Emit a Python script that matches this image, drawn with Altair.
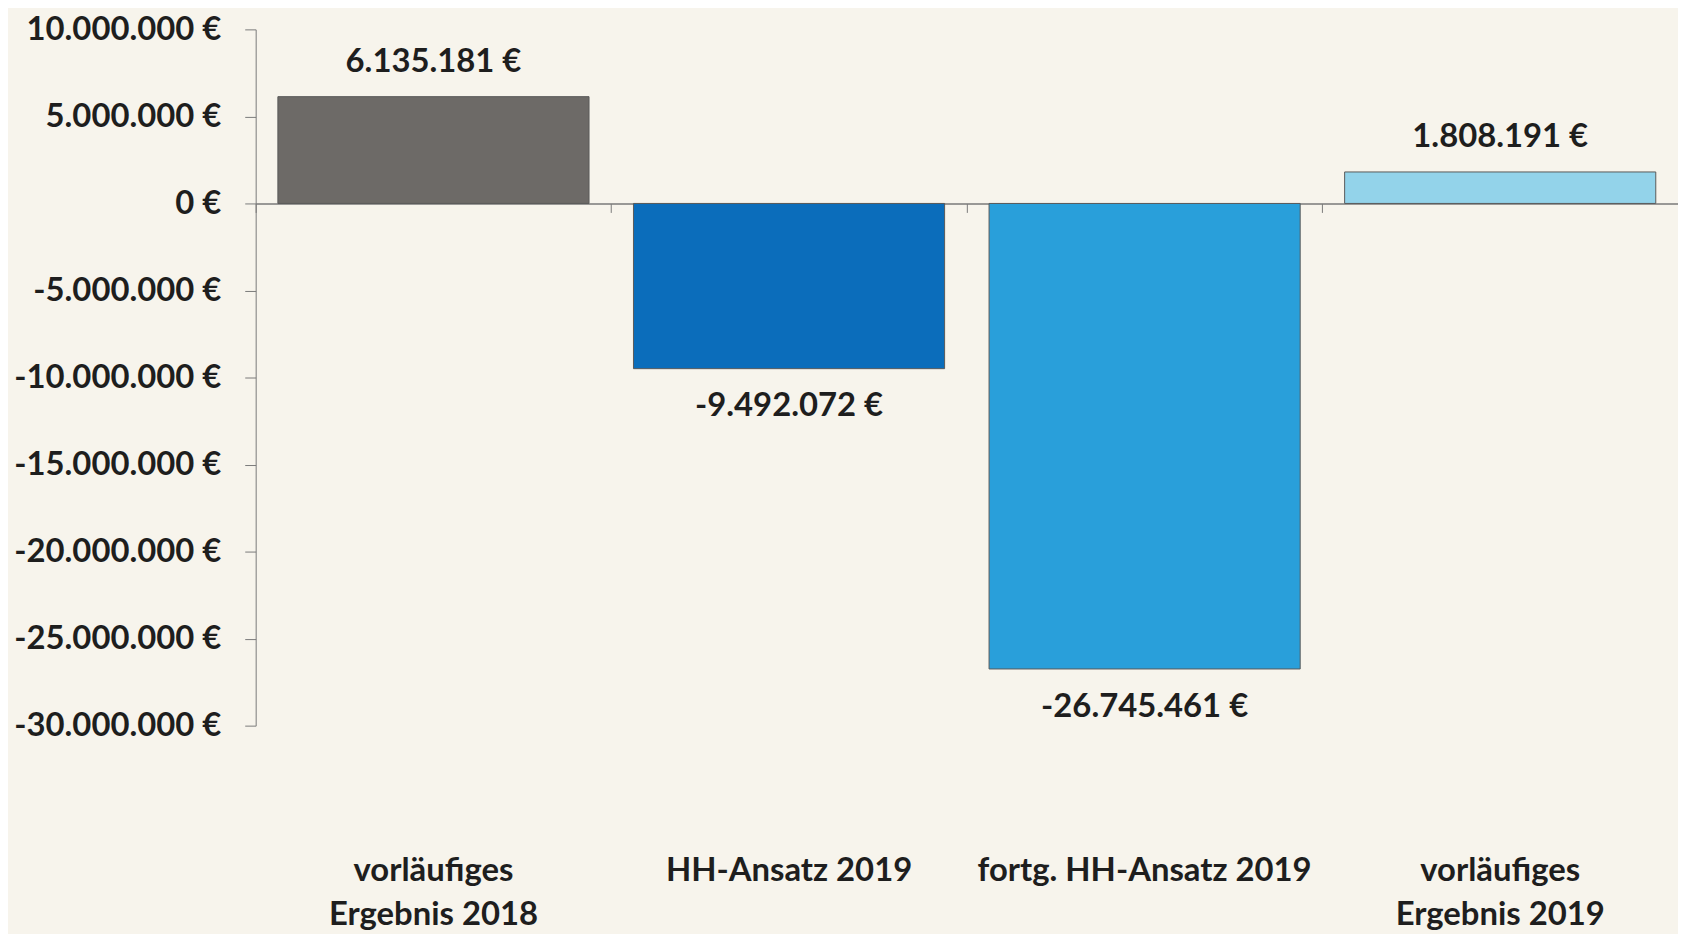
import altair as alt
import pandas as pd

categories = ["vorläufiges|Ergebnis 2018", "HH-Ansatz 2019", "fortg. HH-Ansatz 2019", "vorläufiges|Ergebnis 2019"]
values = [6135181, -9492072, -26745461, 1808191]
colors = ["#6d6a67", "#0b6dbb", "#299fda", "#93d3ea"]
y_ticks = [10000000, 5000000, 0, -5000000, -10000000, -15000000, -20000000, -25000000, -30000000]

df = pd.DataFrame({"cat": categories, "value": values, "color": colors})

FONT = "Lato"
FS = 33
W = 1430
H = 700
PAD_IN = 0.125

xscale = alt.Scale(domain=categories, paddingInner=PAD_IN, paddingOuter=PAD_IN / 2)
yscale = alt.Scale(domain=[-30000000, 10000000], nice=False)

base = alt.Chart(df)

bars = base.mark_bar(stroke="#5a5a5a", strokeWidth=1).encode(
    x=alt.X("cat:N", scale=xscale, sort=categories,
            axis=alt.Axis(orient="bottom", title=None, domain=False, ticks=False, tickSize=0,
                          labelPadding=130, labelAngle=0, labelFont=FONT, labelFontSize=FS,
                          labelFontWeight="bold", labelColor="#1e1e1e", labelBaseline="top",
                          labelLineHeight=44, labelLimit=0,
                          labelExpr="split(datum.label, '|')")),
    y=alt.Y("value:Q", scale=yscale,
            axis=alt.Axis(title=None, values=y_ticks, format="$,d", grid=False,
                          domainColor="#7a7a7a", tickColor="#7a7a7a", tickSize=11,
                          labelPadding=24, labelFont=FONT, labelFontSize=FS, labelLimit=0,
                          labelFontWeight="bold", labelColor="#1e1e1e")),
    color=alt.Color("color:N", scale=None),
)

zero_axis = base.mark_bar(opacity=0).encode(
    x=alt.X("cat:N", scale=xscale, sort=categories,
            axis=alt.Axis(orient="bottom", title=None, labels=False, offset=-(H * 30 / 40),
                          bandPosition=-(PAD_IN / 2) / (1 - PAD_IN), tickSize=9,
                          domainColor="#7a7a7a", tickColor="#7a7a7a", domainWidth=1.5)),
    y=alt.Y("value:Q", scale=yscale),
)

pos_text = base.transform_filter("datum.value >= 0").mark_text(
    dy=-35, font=FONT, fontSize=FS, fontWeight="bold", color="#1e1e1e"
).encode(
    x=alt.X("cat:N", scale=xscale, sort=categories, axis=None),
    y=alt.Y("value:Q", scale=yscale),
    text=alt.Text("value:Q", format="$,d"),
)

neg_text = base.transform_filter("datum.value < 0").mark_text(
    dy=38, font=FONT, fontSize=FS, fontWeight="bold", color="#1e1e1e"
).encode(
    x=alt.X("cat:N", scale=xscale, sort=categories, axis=None),
    y=alt.Y("value:Q", scale=yscale),
    text=alt.Text("value:Q", format="$,d"),
)

chart = alt.layer(zero_axis, bars, pos_text, neg_text).resolve_axis(x="independent").properties(
    width=W, height=H, padding={"left": 5, "top": 3, "right": 0, "bottom": 0}
).configure(
    background="#f7f4ec",
    locale={"number": {"decimal": ",", "thousands": ".", "grouping": [3],
                       "currency": ["", " €"], "minus": "-"}},
).configure_view(stroke=None)

chart.save("out.html", embed_options={"renderer": "svg", "actions": False})
